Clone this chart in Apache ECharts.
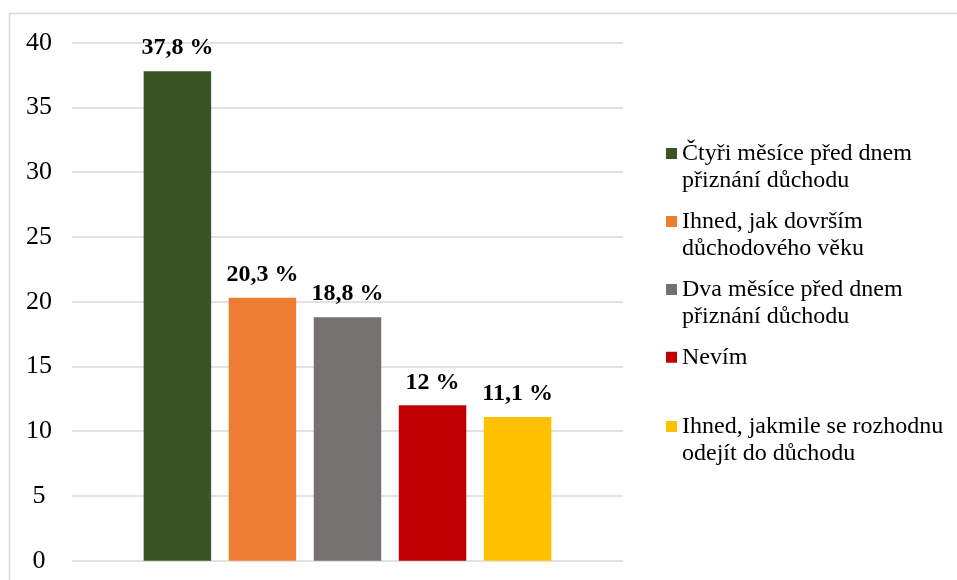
<!DOCTYPE html>
<html style="height: 100%; width: 100%;">
<head>
    <meta charset="utf-8">
    <title>Důchod - kdy podat žádost</title>
    <script src="https://cdn.jsdelivr.net/npm/echarts@6/dist/echarts.min.js"></script>
    <style>
        body, html {
            margin: 0;
            padding: 0;
            width: 100%;
            height: 100%;
            background: #fff;
        }
        #main {
            width: 957px;
            height: 580px;
        }
    </style>
</head>
<body>
<div id="main"></div>
<script type="text/javascript">
    // answers (legend names), shares in %, bar colours
    var answers = [
        'Čtyři měsíce před dnem\npřiznání důchodu',
        'Ihned, jak dovrším\ndůchodového věku',
        'Dva měsíce před dnem\npřiznání důchodu',
        'Nevím',
        'Ihned, jakmile se rozhodnu\nodejít do důchodu'
    ];
    var shares = [37.8, 20.3, 18.8, 12, 11.1];
    var colors = ['#375623', '#ED7D31', '#767171', '#C00000', '#FFC000'];

    var serif = '"Liberation Serif", "Times New Roman", serif';
    // square at the top, empty point below so the marker sits on the first text line
    var topSquare = 'path://M0,0L11,0L11,11L0,11Z M0,38';

    var chart = echarts.init(document.getElementById('main'));

    var series = answers.map(function (name, i) {
        return {
            name: name,
            type: 'bar',
            data: [shares[i]],
            barWidth: 67.5,
            barGap: '26%',
            itemStyle: { color: colors[i] },
            label: {
                show: true,
                position: 'top',
                distance: 11,
                color: '#000',
                fontFamily: serif,
                fontSize: 24,
                fontWeight: 'bold',
                formatter: function (p) {
                    return String(p.value).replace('.', ',') + ' %';
                }
            }
        };
    });

    var legendText = { fontFamily: serif, fontSize: 24, lineHeight: 27.5, color: '#000' };

    function makeLegend(names, top, twoLines) {
        return {
            orient: 'vertical',
            left: 661,
            top: top,
            itemWidth: 11,
            itemHeight: twoLines ? 38 : 11,
            itemGap: 13,
            icon: twoLines ? topSquare : 'rect',
            selectedMode: false,
            textStyle: legendText,
            data: names
        };
    }

    var option = {
        animation: false,
        graphic: [{
            type: 'rect',
            shape: { x: 9.5, y: 13.5, width: 1000, height: 700 },
            style: { fill: 'none', stroke: '#d9d9d9', lineWidth: 1.5 },
            silent: true
        }],
        grid: { left: 72, right: 334, top: 42.7, bottom: 19.3 },
        legend: [
            makeLegend(answers.slice(0, 3), 134.5, true),
            makeLegend(answers.slice(3, 4), 338.5, false),
            makeLegend(answers.slice(4), 407.5, true)
        ],
        xAxis: {
            type: 'category',
            data: [''],
            axisLine: { show: false },
            axisTick: { show: false },
            axisLabel: { show: false }
        },
        yAxis: {
            type: 'value',
            min: 0,
            max: 40,
            interval: 5,
            axisLine: { show: false },
            axisTick: { show: false },
            axisLabel: {
                color: '#000',
                fontFamily: serif,
                fontSize: 26,
                align: 'center',
                margin: 33
            },
            splitLine: { lineStyle: { color: '#d9d9d9', width: 1.5 } }
        },
        series: series
    };

    chart.setOption(option);
</script>
</body>
</html>
